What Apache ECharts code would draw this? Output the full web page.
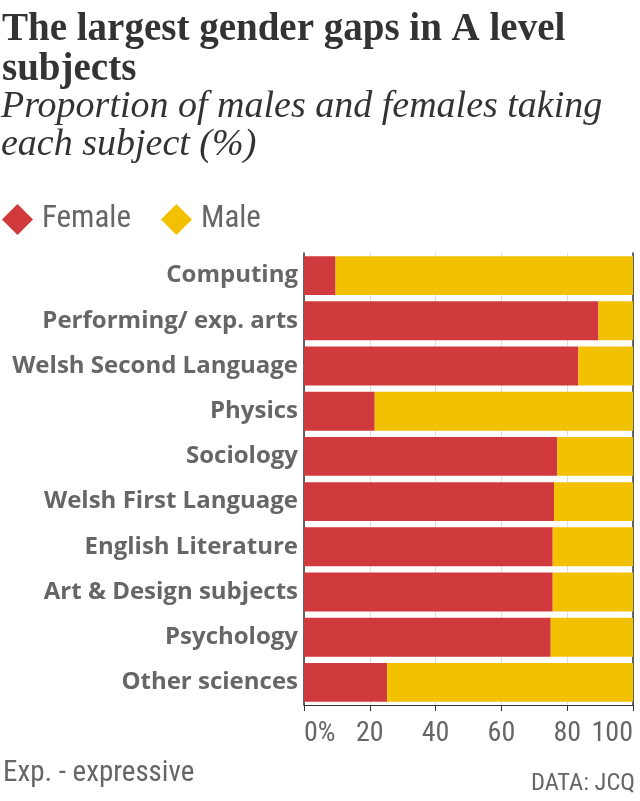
<!DOCTYPE html>
<html><head><meta charset="utf-8">
<script src="https://cdn.jsdelivr.net/npm/echarts@6/dist/echarts.min.js"></script>
<style>html,body{margin:0;padding:0;background:#fff}#c{width:640px;height:801px}</style>
</head><body><div id="c"></div>
<script>
const categories = ["Computing","Performing/ exp. arts","Welsh Second Language","Physics","Sociology","Welsh First Language","English Literature","Art & Design subjects","Psychology","Other sciences"];
const female = [9.6, 89.5, 83.4, 21.5, 77.0, 76.0, 75.6, 75.6, 75.0, 25.3];
const male = female.map(v => +(100 - v).toFixed(1));
const tickLabels = {0:"0%",20:"20",40:"40",60:"60",80:"80",100:"100"};

const cond = '"Liberation Sans Narrow","Roboto Condensed","Open Sans",sans-serif';
const chart = echarts.init(document.getElementById('c'), null, {renderer:'canvas'});
chart.setOption({
  animation:false,
  title:[
    {text:"The largest gender gaps in A level\nsubjects", left:2, top:10, padding:0,
     textStyle:{fontFamily:'"Liberation Serif",serif', fontWeight:'bold', fontSize:39, lineHeight:40, color:'#333'}},
    {text:"Proportion of males and females taking\neach subject (%)", left:1, top:88, padding:0,
     textStyle:{fontFamily:'"Liberation Serif",serif', fontStyle:'italic', fontWeight:'normal', fontSize:38, lineHeight:38, color:'#333'}},
    {text:"Exp. - expressive", left:3, top:759, padding:0, textStyle:{fontFamily:cond, fontWeight:'normal', fontSize:29, color:'#666'}},
    {text:"DATA: JCQ", right:5, top:771, padding:0, textStyle:{fontFamily:cond, fontWeight:'normal', fontSize:24.5, color:'#666'}}
  ],
  legend:{left:2, top:204, padding:0, itemWidth:31, itemHeight:31, itemGap:30, icon:'diamond',
    textStyle:{fontFamily:cond, fontSize:31, color:'#666', padding:[0,0,0,4]},
    data:["Female","Male"]},
  grid:{left:304, right:7, top:253, bottom:96, outerBoundsMode:'none', containLabel:false},
  xAxis:{type:'value', min:0, max:100, interval:20,
    axisLine:{show:true, lineStyle:{color:'#333'}},
    axisTick:{show:true, length:6, lineStyle:{color:'#333'}},
    splitLine:{show:true, lineStyle:{color:'#ddd'}},
    axisLabel:{formatter:v=>tickLabels[v], fontFamily:cond, fontSize:28, color:'#666', margin:15,
      alignMinLabel:'left', alignMaxLabel:'right'}},
  yAxis:[{type:'category', data:categories, inverse:true,
    axisLine:{show:true, lineStyle:{color:'#333', width:1.5}},
    axisTick:{show:false},
    axisLabel:{fontFamily:'"Open Sans",sans-serif', fontWeight:'bold', fontSize:24, color:'#666', margin:6}},
    {type:'category', data:categories, inverse:true, position:'right',
     axisLine:{show:true, lineStyle:{color:'#333', width:1.5}}, axisTick:{show:false}, axisLabel:{show:false}}],
  series:[
    {name:"Female", type:'bar', stack:'t', data:female, barCategoryGap:'14%', itemStyle:{color:'#d13a3d'}},
    {name:"Male", type:'bar', stack:'t', data:male, barCategoryGap:'14%', itemStyle:{color:'#f2c200'}}
  ]
});
</script></body></html>
